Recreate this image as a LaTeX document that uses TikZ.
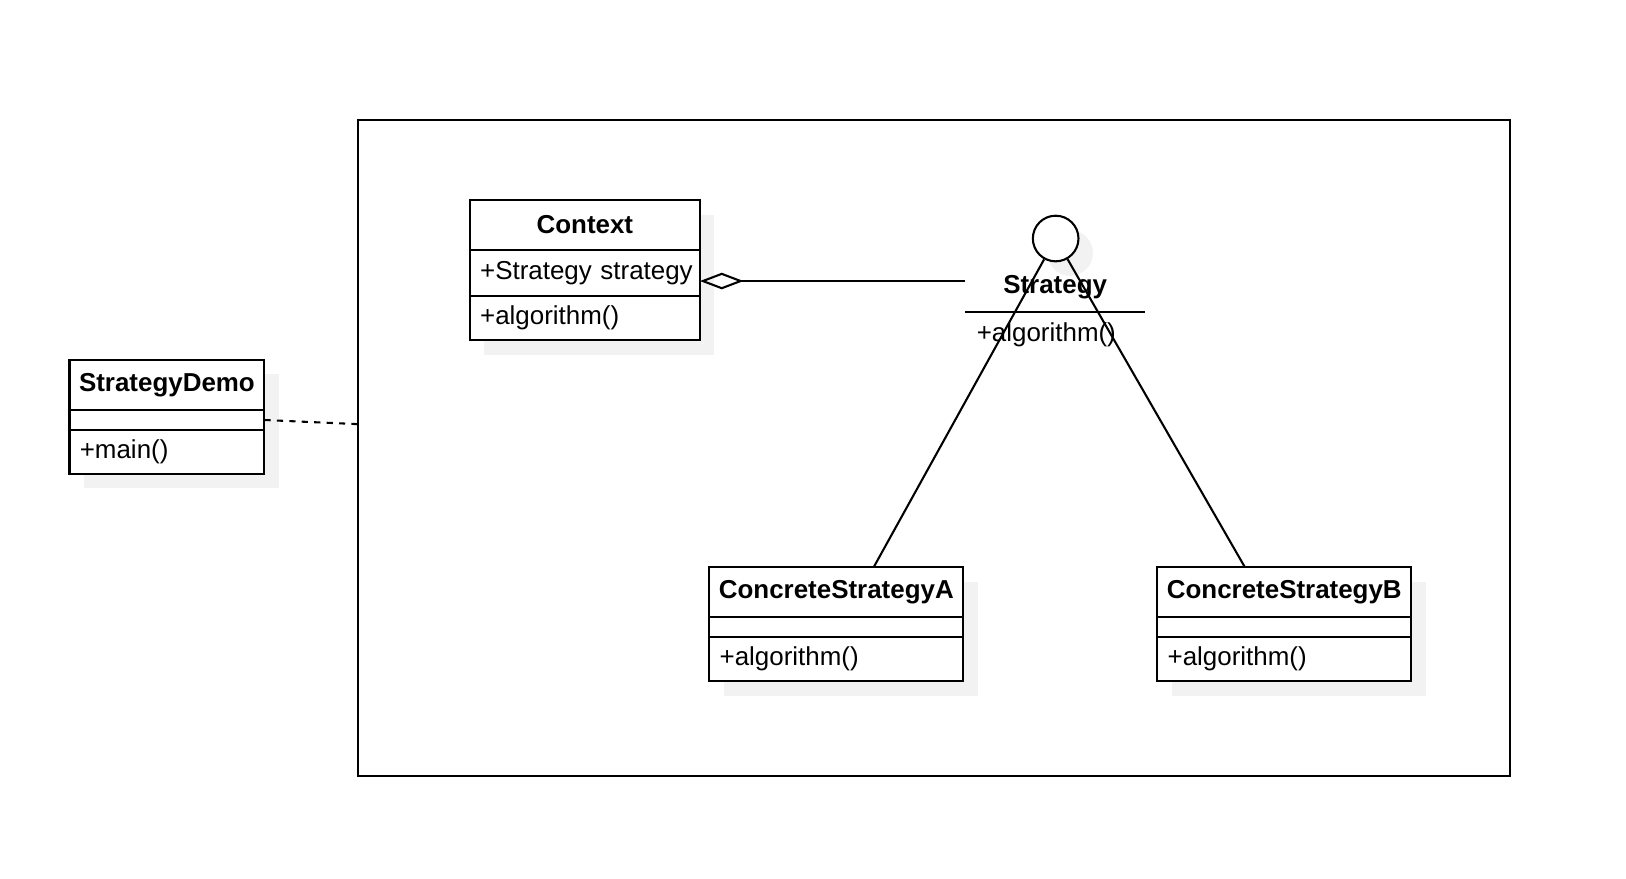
\documentclass[tikz,border=0pt]{standalone}
\usepackage{fontspec}
\setmainfont{Liberation Sans}
\usetikzlibrary{arrows.meta, positioning, backgrounds}

\begin{document}
\begin{tikzpicture}[x=0.5pt, y=-0.5pt, line width=1pt, font=\fontsize{12.5}{15}\selectfont]
    \tikzstyle{classhead}=[draw, fill=white, font=\fontsize{12.5}{15}\selectfont\bfseries, minimum height=24pt, inner sep=0pt, outer sep=0pt, anchor=north west]
    \tikzstyle{classpart}=[draw, fill=white, align=left, inner xsep=5pt, inner ysep=0pt, outer sep=0pt]
    \tikzstyle{boxshadow}=[fill=black!5, draw=none]
    \tikzstyle{aggregation}=[{Diamond[open, length=21pt, width=8pt, line width=1pt]}-]

    \useasboundingbox (0,0) rectangle (1568,847);

    % the package frame
    \node[draw, minimum width=555.5pt, minimum height=316pt, inner sep=0pt, outer sep=0pt] (pkg) at (900.5,432) {};

    % StrategyDemo
    \node[classhead, minimum width=94pt] (demo-head) at (67,347) {StrategyDemo};
    \node[classpart, below=0pt of demo-head, text width=84pt, minimum height=10pt] (demo-attr) {};
    \node[classpart, below=0pt of demo-attr, text width=84pt, minimum height=21pt] (demo-meth) {+main()};

    % Context
    \node[classhead, minimum width=111pt] (ctx-head) at (453,193) {Context};
    \node[classpart, below=0pt of ctx-head, text width=101pt, minimum height=22pt] (ctx-attr) {\mbox{+Strategy strategy}};
    \node[classpart, below=0pt of ctx-attr, text width=101pt, minimum height=21.5pt] (ctx-meth) {+algorithm()};

    % ConcreteStrategyA and ConcreteStrategyB
    \foreach \name / \x / \label in {csa/684/ConcreteStrategyA, csb/1116/ConcreteStrategyB} {
        \node[classhead, minimum width=122.5pt] (\name-head) at (\x,547) {\label};
        \node[classpart, below=0pt of \name-head, text width=112.5pt, minimum height=9.5pt] (\name-attr) {};
        \node[classpart, below=0pt of \name-attr, text width=112.5pt, minimum height=21.5pt] (\name-meth) {+algorithm()};
    }

    % Strategy interface
    \node[circle, draw, fill=white, minimum size=22pt, inner sep=0pt] (strat-ball) at (1018,230) {};
    \node[minimum width=86.5pt, minimum height=24pt, inner sep=0pt, outer sep=0pt, font=\fontsize{12.5}{15}\selectfont\bfseries] (strat-name) at (1017.5,277) {Strategy};
    \draw (strat-name.south west) -- (strat-name.south east);
    \node[anchor=north west, inner xsep=5pt, inner ysep=0pt, minimum height=21pt] (strat-meth) at (strat-name.south west) {+algorithm()};

    % drop shadows
    \begin{scope}[on background layer]
        \foreach \cls in {demo, ctx, csa, csb}
            \fill[boxshadow] ([shift={(14,14)}]\cls-head.north west) rectangle ([shift={(14,14)}]\cls-meth.south east);
        \fill[boxshadow] ([shift={(14,14)}]strat-ball.center) circle (11pt);
    \end{scope}

    % connectors
    \draw[aggregation] ([yshift=-4pt]ctx-attr.east) -- ([yshift=-4pt]ctx-attr.east -| strat-name.west);
    \draw[dash pattern=on 3pt off 3pt] (demo-attr.east) -- ([yshift=-2pt]pkg.west |- demo-attr.east);
    \draw (strat-ball) -- ([xshift=18pt]csa-head.north);
    \draw (strat-ball) -- ([xshift=-19pt]csb-head.north);
\end{tikzpicture}
\end{document}
